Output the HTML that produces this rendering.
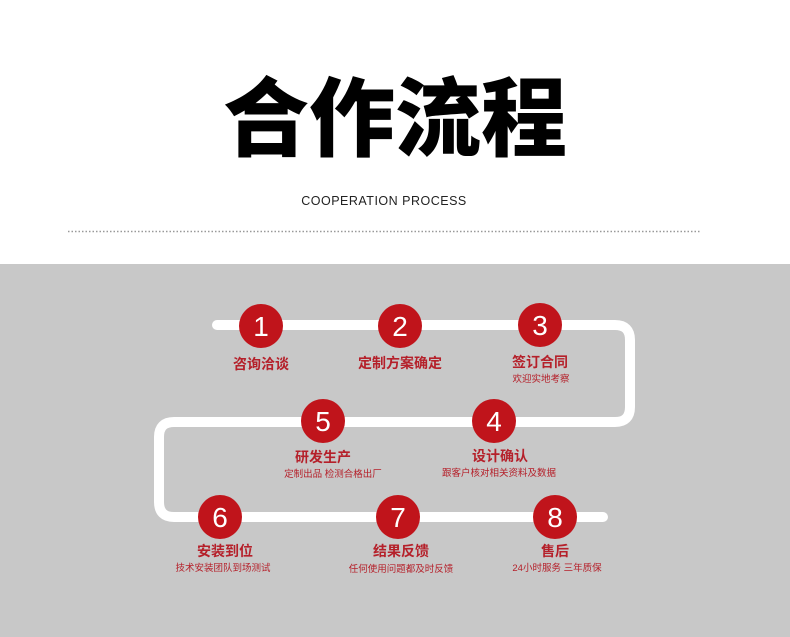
<!DOCTYPE html>
<html><head><meta charset="utf-8"><style>
html,body{margin:0;padding:0;width:790px;height:637px;overflow:hidden;background:#fff}
svg{display:block}
</style></head><body>
<svg width="790" height="637" viewBox="0 0 790 637" xmlns="http://www.w3.org/2000/svg">
<rect x="0" y="0" width="790" height="264" fill="#fff"/>
<rect x="0" y="264" width="790" height="373" fill="#c8c8c8"/>
<text x="395" y="149" text-anchor="middle" font-family="'Noto Sans CJK SC',sans-serif" font-weight="900" font-size="86" fill="#000">合作流程</text>
<text x="384" y="205" text-anchor="middle" font-family="'Liberation Sans',sans-serif" font-size="12.5" letter-spacing="0.5" fill="#222">COOPERATION PROCESS</text>
<line x1="68" y1="231.5" x2="700" y2="231.5" stroke="#999" stroke-width="1.5" stroke-dasharray="1.5,2"/>
<path d="M217 325 H615 Q630 325 630 340 V407 Q630 422 615 422 H174 Q159 422 159 437 V502 Q159 517 174 517 H603" fill="none" stroke="#fff" stroke-width="10" stroke-linecap="round"/>
<g fill="#c0141b">
<circle cx="261" cy="326" r="22"/><circle cx="400" cy="326" r="22"/><circle cx="540" cy="325" r="22"/>
<circle cx="323" cy="421" r="22"/><circle cx="494" cy="421" r="22"/>
<circle cx="220" cy="517" r="22"/><circle cx="398" cy="517" r="22"/><circle cx="555" cy="517" r="22"/>
</g>
<g fill="#fff" font-family="'Liberation Sans',sans-serif" font-size="28" text-anchor="middle">
<text x="261" y="336">1</text><text x="400" y="336">2</text><text x="540" y="335">3</text>
<text x="323" y="431">5</text><text x="494" y="431">4</text>
<text x="220" y="527">6</text><text x="398" y="527">7</text><text x="555" y="527">8</text>
</g>
<g fill="#b5202a" font-family="'Noto Sans CJK SC',sans-serif" font-weight="700" font-size="14" text-anchor="middle">
<text x="261" y="369">咨询洽谈</text><text x="400" y="368">定制方案确定</text><text x="540" y="367">签订合同</text>
<text x="323" y="462">研发生产</text><text x="500" y="461">设计确认</text>
<text x="225" y="556">安装到位</text><text x="401" y="556">结果反馈</text><text x="555" y="556">售后</text>
</g>
<g fill="#b5202a" font-family="'Liberation Sans','Noto Sans CJK SC',sans-serif" font-size="9.5" text-anchor="middle">
<text x="541" y="382">欢迎实地考察</text>
<text x="333" y="477">定制出品 检测合格出厂</text><text x="499" y="476">跟客户核对相关资料及数据</text>
<text x="223" y="571">技术安装团队到场测试</text><text x="401" y="572">任何使用问题都及时反馈</text><text x="557" y="571">24小时服务 三年质保</text>
</g>
</svg>
</body></html>
